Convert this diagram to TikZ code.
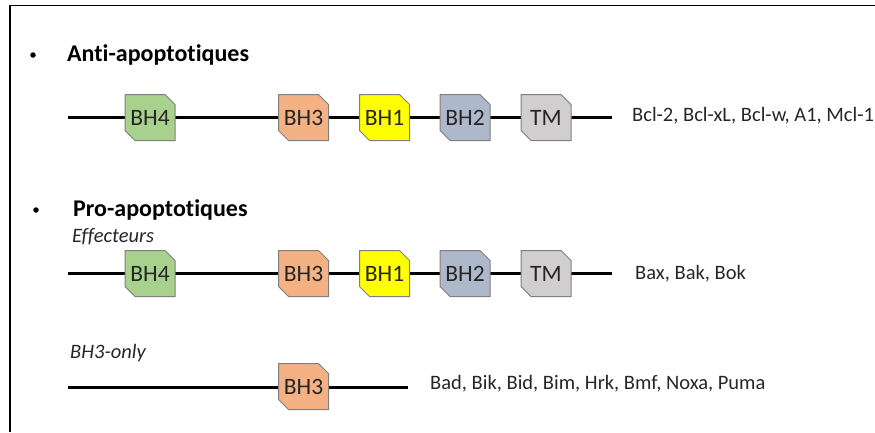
\documentclass[tikz,border=0pt]{standalone}
\usepackage{fontspec}
\setmainfont{Carlito}[Ligatures=NoCommon]
\usetikzlibrary{calc}
\definecolor{cgreen}{HTML}{A9D18E}
\definecolor{corange}{HTML}{F4B183}
\definecolor{cyellow}{HTML}{FFFF00}
\definecolor{cblue}{HTML}{ADB9CA}
\definecolor{cgray}{HTML}{D0CECE}
\definecolor{cborder}{HTML}{7F7F7F}
\tikzset{
  domnode/.style={minimum width=50pt, minimum height=46pt, inner sep=0pt, font=\fontsize{23.5}{26}\selectfont, text=black!85},
  backbone/.style={line width=3pt, black},
  frameline/.style={line width=1.5pt, black},
  heading/.style={anchor=west, font=\fontsize{24}{26}\selectfont\bfseries, inner sep=0pt},
  sublabel/.style={anchor=west, font=\fontsize{20.5}{23}\selectfont\itshape, inner sep=0pt, text=black!85},
  names/.style={anchor=west, font=\fontsize{20.5}{23}\selectfont, inner sep=0pt, text=black!85},
  bullet/.style={circle, fill=black, inner sep=0pt, minimum size=5.5pt}
}
\newcommand\domain[4]{%
  \filldraw[fill=#3, draw=cborder, line width=1pt]
    ($(#2)+(-25,-23)$) -- ($(#2)+(15,-23)$) -- ($(#2)+(25,-13)$) -- ($(#2)+(25,23)$)
    -- ($(#2)+(-15,23)$) -- ($(#2)+(-25,13)$) -- cycle;
  \node[domnode] (#1) at (#2) {#4};
}
\begin{document}
\begin{tikzpicture}[x=1pt, y=-1pt]
\useasboundingbox (0,0) rectangle (875,432);
% frame
\coordinate (ftl) at (10,5.5);
\coordinate (ftr) at (875,5.5);
\coordinate (fbl) at (10,432);
\draw[frameline] (ftr) -- (ftl) -- (fbl);

% headings
\node[bullet] (b1) at (33,55) {};
\node[heading] (h1) at (67,55) {Anti-apoptotiques};
\node[bullet] (b2) at (36,210) {};
\node[heading] (h2) at (73,210) {Pro-apoptotiques};
\node[sublabel] (s1) at (72,237) {Effecteurs};
\node[sublabel] (s2) at (70,353) {BH3-only};

% row 1
\coordinate (r1s) at (68,117.5);
\coordinate (r1e) at (612,117.5);
\draw[backbone] (r1s) -- (r1e);
\domain{a4}{150,117.5}{cgreen}{BH4}
\domain{a3}{303.5,117.5}{corange}{BH3}
\domain{a1}{384.5,117.5}{cyellow}{BH1}
\domain{a2}{465,117.5}{cblue}{BH2}
\domain{atm}{546,117.5}{cgray}{TM}
\node[names] (n1) at (632,116) {Bcl-2, Bcl-xL, Bcl-w, A1, Mcl-1};

% row 2
\coordinate (r2s) at (68,273.5);
\coordinate (r2e) at (612,273.5);
\draw[backbone] (r2s) -- (r2e);
\domain{e4}{150,273.5}{cgreen}{BH4}
\domain{e3}{303.5,273.5}{corange}{BH3}
\domain{e1}{384.5,273.5}{cyellow}{BH1}
\domain{e2}{465,273.5}{cblue}{BH2}
\domain{etm}{546,273.5}{cgray}{TM}
\node[names] (n2) at (635,274) {Bax, Bak, Bok};

% row 3
\coordinate (r3s) at (68,387);
\coordinate (r3e) at (408,387);
\draw[backbone] (r3s) -- (r3e);
\domain{o3}{303.5,386.5}{corange}{BH3}
\node[names] (n3) at (430,384) {Bad, Bik, Bid, Bim, Hrk, Bmf, Noxa, Puma};
\end{tikzpicture}
\end{document}
